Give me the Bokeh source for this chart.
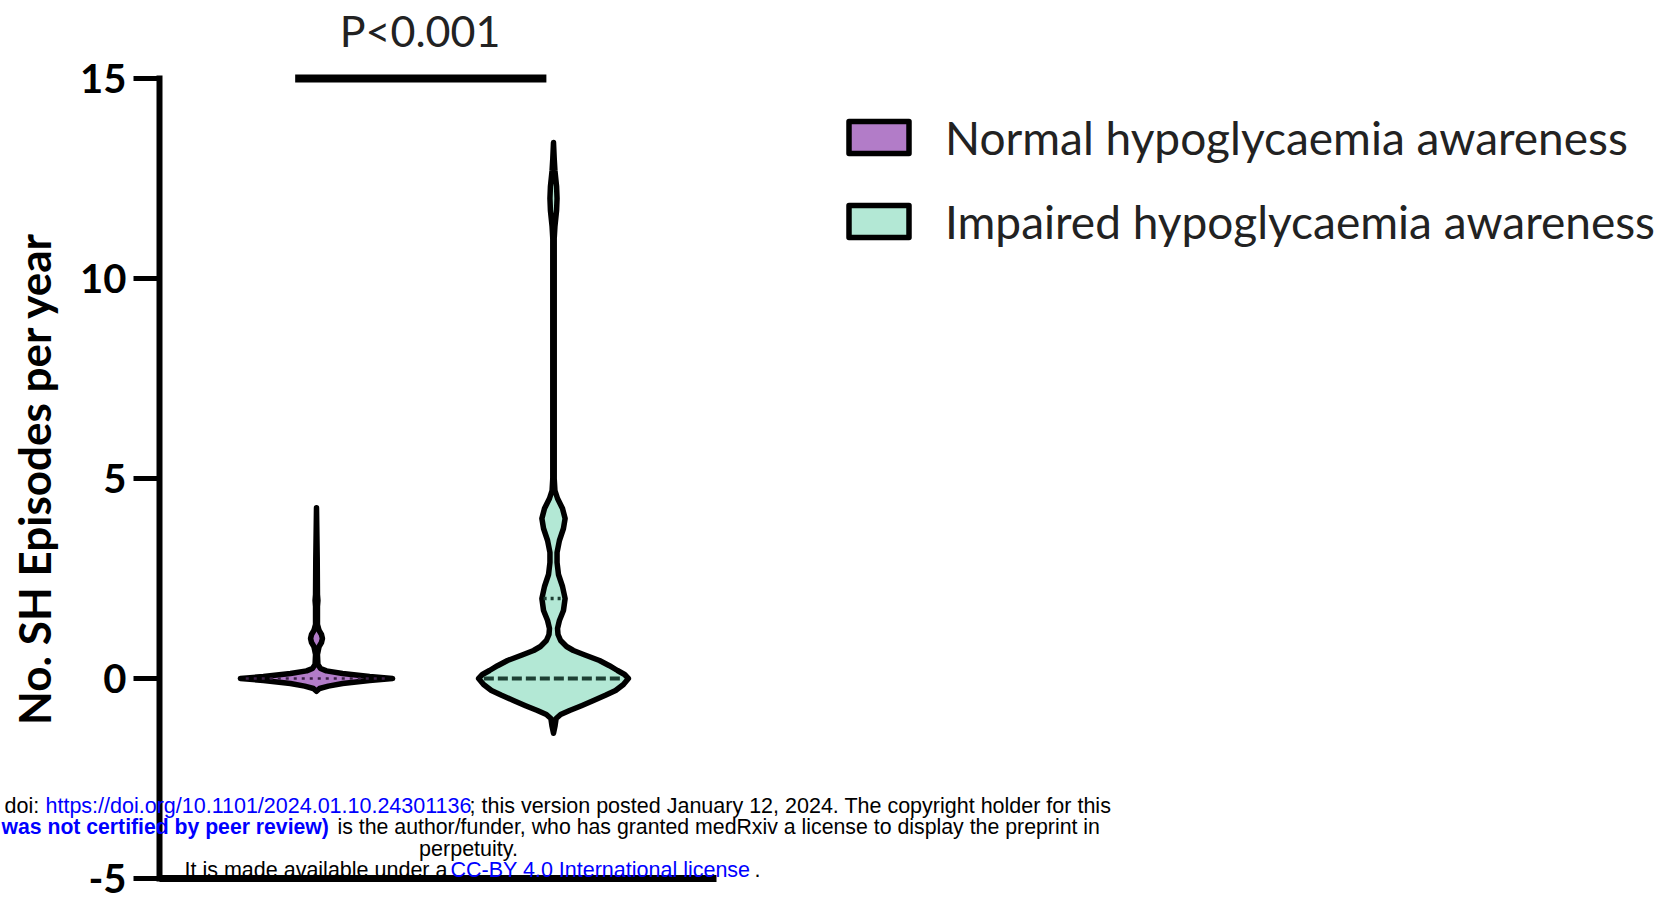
import numpy as np
from bokeh.plotting import figure
from bokeh.models import (Range1d, Legend, LegendItem, FixedTicker, Label, LinearAxis)
from bokeh.embed import file_html
from bokeh.resources import INLINE
from bokeh.core.properties import value

# ---------------- data ----------------
groups = ["Normal hypoglycaemia awareness", "Impaired hypoglycaemia awareness"]
group_x = [1, 2]
fill_colors = ["#b27cc8", "#b3e8d5"]

# violin outlines: y level and half-width (x units, 1 unit = distance between groups)
normal_y = [-0.32, -0.25, -0.19, -0.125, -0.05, 0.0, 0.05, 0.125, 0.19, 0.25, 0.35,
            0.6, 0.8, 0.9, 1.0, 1.1, 1.2, 1.35, 1.8, 1.95, 2.1, 3.0, 4.27]
normal_hw = [0.0, 0.013, 0.05, 0.11, 0.224, 0.321, 0.224, 0.11, 0.042, 0.017, 0.006,
             0.004, 0.011, 0.021, 0.025, 0.021, 0.011, 0.004, 0.004, 0.006, 0.004, 0.003, 0.0]

impaired_y = [-1.37, -1.2, -1.0, -0.9, -0.8, -0.68, -0.55, -0.42, -0.3, -0.15, 0.0,
              0.1, 0.2, 0.32, 0.45, 0.6, 0.7, 0.8, 0.95, 1.1, 1.25, 1.45, 1.7, 2.0,
              2.3, 2.6, 2.9, 3.15, 3.45, 3.75, 4.0, 4.25, 4.5, 4.7, 5.0, 8.0, 11.0,
              11.3, 11.7, 12.0, 12.3, 12.7, 13.0, 13.4]
impaired_hw = [0.0, 0.006, 0.011, 0.03, 0.068, 0.118, 0.169, 0.219, 0.262, 0.295, 0.316,
               0.3, 0.27, 0.236, 0.194, 0.127, 0.084, 0.055, 0.03, 0.019, 0.017, 0.025,
               0.042, 0.049, 0.038, 0.021, 0.015, 0.015, 0.025, 0.042, 0.049, 0.038,
               0.017, 0.006, 0.003, 0.003, 0.003, 0.006, 0.013, 0.015, 0.013, 0.006,
               0.003, 0.0]

medians = [0.0, 0.0]
upper_quartiles = [0.0, 2.0]

y_ticks = [-5, 0, 5, 10, 15]
y_tick_labels = ["-5", "0", "5", "10", "15"]
y_label = "No. SH Episodes per year"
p_text = ["P<0.001"]
bracket_x = [0.91, 1.97]
bracket_y = 15.0

# ---------------- layout (pixels) ----------------
W, H = 1680, 904
PX_X = 237.0          # pixels per x unit
PX_Y = 40.0           # pixels per y unit
G1_PX = 316.0         # pixel of first group
Y15_PX = 78.0         # pixel row of y = 15
x0 = group_x[0] - G1_PX / PX_X
y1 = y_ticks[-1] + Y15_PX / PX_Y
y0 = y1 - H / PX_Y
axis_x = group_x[0] + (159 - G1_PX) / PX_X
axis_x_end = group_x[0] + (716 - G1_PX) / PX_X

p = figure(width=W, height=H, output_backend="svg", toolbar_location=None,
           x_range=Range1d(x0, x0 + W / PX_X), y_range=Range1d(y0, y1),
           x_axis_type=None, y_axis_type=None, min_border=0,
           background_fill_color="white", border_fill_color="white",
           outline_line_color=None)
p.grid.visible = False

# y axis (fixed inside the frame)
ya = LinearAxis(fixed_location=axis_x, ticker=FixedTicker(ticks=y_ticks),
                bounds=(y_ticks[0], y_ticks[-1]))
ya.major_label_overrides = {t: s for t, s in zip(y_ticks, y_tick_labels)}
ya.axis_line_width = 6
ya.axis_line_cap = "square"
ya.major_tick_line_width = 5
ya.major_tick_out = 26
ya.major_tick_in = 0
ya.minor_tick_out = 0
ya.minor_tick_in = 0
ya.major_label_standoff = 7
ya.major_label_text_font = "Lato"
ya.major_label_text_font_style = "bold"
ya.major_label_text_font_size = "40px"
ya.major_label_text_color = "black"
ya.axis_label = y_label
ya.axis_label_text_font = "Lato"
ya.axis_label_text_font_style = "bold"
ya.axis_label_text_font_size = "44px"
ya.axis_label_text_color = "black"
ya.axis_label_standoff = 17
p.add_layout(ya, "left")

# x axis: only the baseline
xa = LinearAxis(fixed_location=y_ticks[0], ticker=FixedTicker(ticks=[]),
                bounds=(axis_x, axis_x_end))
xa.axis_line_width = 7
xa.major_tick_out = 0
xa.major_tick_in = 0
xa.minor_tick_out = 0
xa.minor_tick_in = 0
xa.major_label_text_font_size = "0px"
p.add_layout(xa, "below")

# violins
renderers = []
profiles = [(np.array(normal_y), np.array(normal_hw)),
            (np.array(impaired_y), np.array(impaired_hw))]
for gx, (yy, hw), col in zip(group_x, profiles, fill_colors):
    xs = np.concatenate([gx + hw, (gx - hw)[::-1]])
    ys = np.concatenate([yy, yy[::-1]])
    r = p.patch(xs, ys, fill_color=col, line_color="black", line_width=5.5,
                line_join="round")
    renderers.append(r)

# median (dashed) and upper quartile (dotted) lines
med_x0, med_x1, q_x0, q_x1 = [], [], [], []
for gx, (yy, hw), m, q in zip(group_x, profiles, medians, upper_quartiles):
    wm = np.interp(m, yy, hw) * 0.93
    wq = np.interp(q, yy, hw) * 0.85
    med_x0.append(gx - wm); med_x1.append(gx + wm)
    q_x0.append(gx - wq); q_x1.append(gx + wq)
p.segment(x0=med_x0[1:], x1=med_x1[1:], y0=medians[1:], y1=medians[1:],
          line_color="#1d3f33", line_width=4, line_dash="10 4")
p.segment(x0=med_x0[:1], x1=med_x1[:1], y0=medians[:1], y1=medians[:1],
          line_color="#3a1f44", line_width=2.5, line_dash="3 5")
p.segment(x0=q_x0[1:], x1=q_x1[1:], y0=upper_quartiles[1:], y1=upper_quartiles[1:],
          line_color="#1d3f33", line_width=3.5, line_dash="3 4")

# significance bracket
p.line(x=bracket_x, y=[bracket_y, bracket_y], line_color="black", line_width=8)
p.text(x=[sum(bracket_x) / 2 - 0.003], y=[bracket_y + 1.2], text=p_text,
       text_font=value("Lato"), text_font_size="43px", text_color="#222222",
       text_align="center", text_baseline="alphabetic")

# legend
legend = Legend(items=[LegendItem(label=groups[0], renderers=[renderers[0]]),
                       LegendItem(label=groups[1], renderers=[renderers[1]])],
                location=(841, 653), glyph_width=75, glyph_height=40,
                label_standoff=29, spacing=24, label_height=60,
                label_text_font="Lato", label_text_font_size="46px",
                label_text_color="#222222", padding=0, margin=0,
                border_line_color=None, background_fill_alpha=0)
p.add_layout(legend)

# medRxiv stamp (screen units: x from left, y from bottom)
stamp = [
    ("doi: ", 4, 805, "black", "normal", "left", "21.5px"),
    ("https://doi.org/10.1101/2024.01.10.24301136", 45, 805, "#0000ff", "normal", "left", "21.5px"),
    ("; this version posted January 12, 2024. The copyright holder for this", 469, 805, "black", "normal", "left", "21.5px"),
    ("was not certified by peer review)", 1, 826, "#0000ff", "bold", "left", "21.2px"),
    ("is the author/funder, who has granted medRxiv a license to display the preprint in", 337, 826, "black", "normal", "left", "21.3px"),
    ("perpetuity.", 468, 848, "black", "normal", "center", "21.5px"),
    ("It is made available under a ", 184, 869, "black", "normal", "left", "21.5px"),
    ("CC-BY 4.0 International license", 450, 869, "#0000ff", "normal", "left", "21.5px"),
    (".", 754, 869, "black", "normal", "left", "21.5px"),
]
for txt, px, py, col, style, align, fs in stamp:
    p.add_layout(Label(x=px, y=H - py, x_units="screen", y_units="screen", text=txt,
                       text_font="Liberation Sans", text_font_size=fs,
                       text_color=col, text_font_style=style,
                       text_baseline="middle", text_align=align))

open("out.html", "w").write(file_html(p, INLINE))
